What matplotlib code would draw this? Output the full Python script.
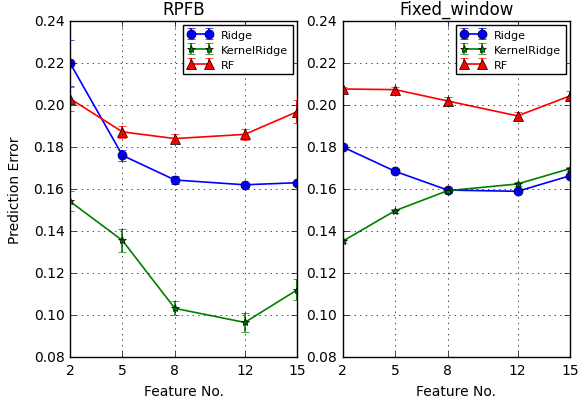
import matplotlib
matplotlib.use('Agg')
import matplotlib.pyplot as plt

plt.style.use('classic')
plt.rcParams['font.family'] = ['DejaVu Sans']

features = [2, 5, 8, 12, 15]
titles = ['RPFB', 'Fixed_window']

# RPFB
rpfb_ridge = [0.220, 0.176, 0.1643, 0.162, 0.163]
rpfb_ridge_err = [0.011, 0.0028, 0.002, 0.001, 0.001]
rpfb_kr = [0.1541, 0.1355, 0.1032, 0.0965, 0.112]
rpfb_kr_err = [0.0048, 0.0055, 0.0034, 0.0047, 0.005]
rpfb_rf = [0.203, 0.1872, 0.184, 0.186, 0.1968]
rpfb_rf_err = [0.0057, 0.0028, 0.002, 0.0025, 0.0055]

# Fixed_window
fw_ridge = [0.180, 0.1684, 0.1595, 0.1589, 0.1663]
fw_ridge_err = [0.001, 0.001, 0.001, 0.001, 0.001]
fw_kr = [0.1352, 0.1497, 0.1592, 0.1624, 0.1697]
fw_kr_err = [0.001, 0.001, 0.001, 0.001, 0.001]
fw_rf = [0.2076, 0.2073, 0.2019, 0.1948, 0.2043]
fw_rf_err = [0.0011, 0.0012, 0.002, 0.0017, 0.0023]

data = [
    (rpfb_ridge, rpfb_ridge_err, rpfb_kr, rpfb_kr_err, rpfb_rf, rpfb_rf_err),
    (fw_ridge, fw_ridge_err, fw_kr, fw_kr_err, fw_rf, fw_rf_err),
]

fig = plt.figure(figsize=(5.81, 4.06), dpi=100, facecolor='white')
positions = [[0.1205, 0.118, 0.391, 0.828], [0.590, 0.118, 0.391, 0.828]]
yt = [0.08, 0.10, 0.12, 0.14, 0.16, 0.18, 0.20, 0.22, 0.24]

for i, (pos, d, title) in enumerate(zip(positions, data, titles)):
    ax = fig.add_axes(pos)
    r, re, k, ke, f, fe = d
    ax.errorbar(features, r, yerr=re, color='b', marker='o', markersize=6.5, linewidth=1.2,
                markerfacecolor='b', markeredgecolor='k', label='Ridge', capsize=3)
    ax.errorbar(features, k, yerr=ke, color='g', marker='*', markersize=6, linewidth=1.2,
                markerfacecolor='g', markeredgecolor='k', label='KernelRidge', capsize=3)
    ax.errorbar(features, f, yerr=fe, color='r', marker='^', markersize=6.5, linewidth=1.2,
                markerfacecolor='r', markeredgecolor='k', label='RF', capsize=3)
    ax.set_xlim(2, 15)
    ax.set_ylim(0.08, 0.24)
    ax.set_xticks(features)
    ax.set_yticks(yt)
    ax.set_yticklabels(['%.2f' % v for v in yt])
    ax.tick_params(labelsize=10)
    ax.grid(True, linestyle=':', color='k')
    ax.set_title(title, fontsize=12)
    ax.set_xlabel('Feature No.', fontsize=10)
    if i == 0:
        ax.set_ylabel('Prediction Error', fontsize=10, labelpad=8)
    ax.legend(loc='upper right', fontsize=8, numpoints=2, borderaxespad=0.4,
              handlelength=2.2, labelspacing=0.45, borderpad=0.4)

fig.savefig('out.png', dpi=100, facecolor='white')
